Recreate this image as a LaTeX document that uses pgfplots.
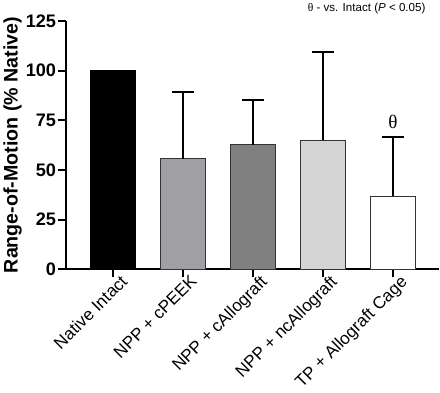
\documentclass[border=0pt]{standalone}
\usepackage{pgfplots}
\pgfplotsset{compat=1.18}
\usepackage{fontspec}
\setmainfont{Liberation Sans}
\newfontfamily\seriffont{Liberation Serif}
\definecolor{cpeek}{HTML}{A0A0A4}
\definecolor{callo}{HTML}{808080}
\definecolor{ncallo}{HTML}{D4D4D4}
\begin{document}
\begin{tikzpicture}
\begin{axis}[
  scale only axis,
  width=371pt, height=247pt,
  xmin=-0.676, xmax=4.66,
  ymin=0, ymax=125,
  axis x line=bottom, axis y line=left,
  axis line style={line width=2pt, -},
  ytick={0,25,50,75,100,125},
  xtick={0,1,2,3,4},
  xticklabels={Native Intact, NPP + cPEEK, NPP + cAllograft, NPP + ncAllograft, TP + Allograft Cage},
  x tick label style={rotate=45, anchor=north east, font=\fontsize{17}{19}\selectfont, xshift=8pt, yshift=-1pt, inner sep=1pt},
  y tick label style={font=\fontsize{18}{20}\selectfont\bfseries, inner sep=1.5pt},
  /pgf/number format/assume math mode=true,
  tick style={line width=2pt, black},
  major tick length=8pt,
  tick align=outside,
  ylabel={Range-of-Motion (\% Native)},
  ylabel style={font=\fontsize{19.5}{21}\selectfont\bfseries, yshift=-1pt},
  ybar, bar width=45pt,
  clip=false,
]
\addplot[fill=black, draw=black, line width=1pt, bar shift=0pt] coordinates {(0,100)};
\addplot[fill=cpeek, draw=black!80, line width=1pt, bar shift=0pt,
  error bars/.cd, y dir=plus, y explicit,
  error bar style={line width=2pt, black},
  error mark options={rotate=90, mark size=11pt, line width=2pt, black}]
  coordinates {(1,55.7) +- (0,33.3)};
\addplot[fill=callo, draw=black!80, line width=1pt, bar shift=0pt,
  error bars/.cd, y dir=plus, y explicit,
  error bar style={line width=2pt, black},
  error mark options={rotate=90, mark size=11pt, line width=2pt, black}]
  coordinates {(2,62.7) +- (0,22.5)};
\addplot[fill=ncallo, draw=black!80, line width=1pt, bar shift=0pt,
  error bars/.cd, y dir=plus, y explicit,
  error bar style={line width=2pt, black},
  error mark options={rotate=90, mark size=11pt, line width=2pt, black}]
  coordinates {(3,64.9) +- (0,44.6)};
\addplot[fill=white, draw=black!80, line width=1pt, bar shift=0pt,
  error bars/.cd, y dir=plus, y explicit,
  error bar style={line width=2pt, black},
  error mark options={rotate=90, mark size=11pt, line width=2pt, black}]
  coordinates {(4,36.7) +- (0,29.8)};
\node[font=\seriffont\fontsize{19}{20}\selectfont] at (axis cs:4,74) {θ};
\node[anchor=east, font=\fontsize{11.5}{13}\selectfont] at ([xshift=-10pt,yshift=12pt]rel axis cs:1,1) {{\seriffont θ} - vs. Intact (\textit{P} < 0.05)};
\end{axis}
\end{tikzpicture}
\end{document}
